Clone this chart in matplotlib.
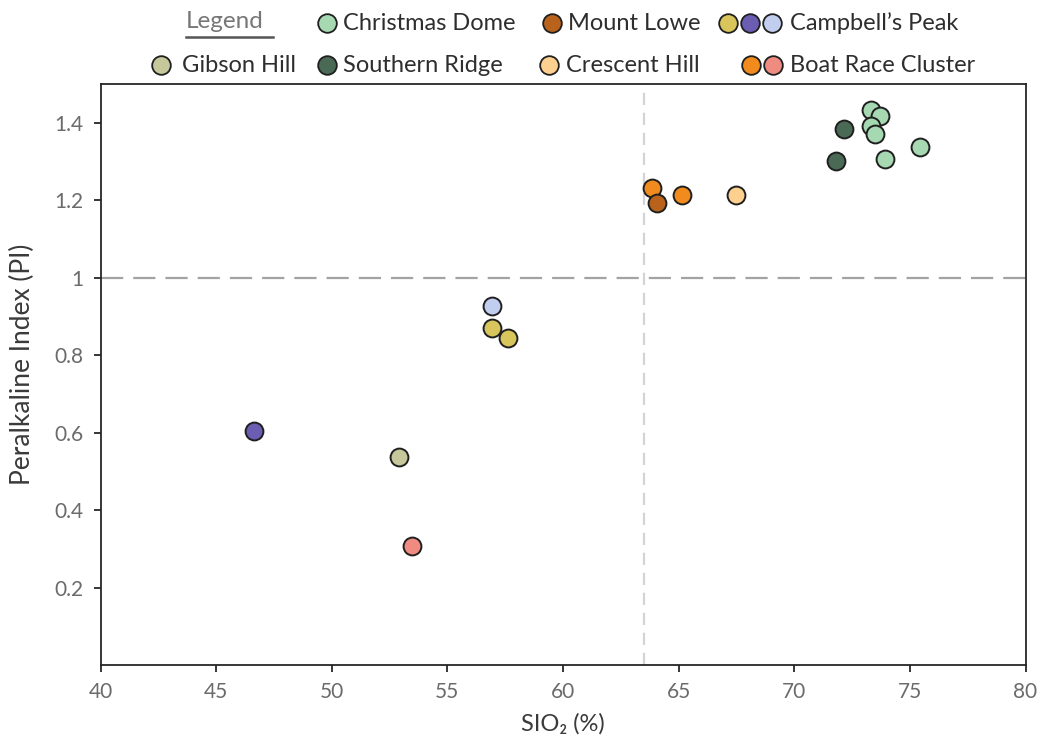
"""
Peralkaline index vs silica for volcanic centres.
Output: out.png
"""
import matplotlib.pyplot as plt

FIG_PATH = "out.png"
FONT = ["Lato", "DejaVu Sans"]

# SiO2 (%) and peralkaline index per volcanic centre
christmas_x = [73.30, 73.70, 73.30, 73.49, 73.92, 75.44]
christmas_y = [1.434, 1.417, 1.391, 1.370, 1.307, 1.338]
southern_x = [72.16, 71.80]
southern_y = [1.384, 1.301]
lowe_x = [64.05]
lowe_y = [1.193]
crescent_x = [67.47]
crescent_y = [1.214]
boat_orange_x = [63.83, 65.13]
boat_orange_y = [1.232, 1.214]
boat_pink_x = [53.46]
boat_pink_y = [0.308]
campbell_yellow_x = [56.91, 57.63]
campbell_yellow_y = [0.870, 0.844]
campbell_purple_x = [46.64]
campbell_purple_y = [0.605]
campbell_blue_x = [56.92]
campbell_blue_y = [0.928]
gibson_x = [52.92]
gibson_y = [0.537]

PI_THRESHOLD = 1.0
SIO2_DIVIDE = 63.5

x_ticks = [40, 45, 50, 55, 60, 65, 70, 75, 80]
y_ticks = [0.2, 0.4, 0.6, 0.8, 1.0, 1.2, 1.4]
y_tick_labels = ["0.2", "0.4", "0.6", "0.8", "1", "1.2", "1.4"]

C_CHRISTMAS = "#a6d9b1"
C_SOUTHERN = "#4b6a55"
C_LOWE = "#b9621c"
C_CRESCENT = "#fdd08f"
C_BOAT_ORANGE = "#f18b1d"
C_BOAT_PINK = "#f08b82"
C_CAMP_YELLOW = "#d8c55b"
C_CAMP_PURPLE = "#6a5db2"
C_CAMP_BLUE = "#c2cef0"
C_GIBSON = "#c6c79b"

series = [
    (campbell_purple_x, campbell_purple_y, C_CAMP_PURPLE),
    (gibson_x, gibson_y, C_GIBSON),
    (boat_pink_x, boat_pink_y, C_BOAT_PINK),
    (campbell_blue_x, campbell_blue_y, C_CAMP_BLUE),
    (campbell_yellow_x, campbell_yellow_y, C_CAMP_YELLOW),
    (crescent_x, crescent_y, C_CRESCENT),
    (boat_orange_x, boat_orange_y, C_BOAT_ORANGE),
    (lowe_x, lowe_y, C_LOWE),
    (southern_x, southern_y, C_SOUTHERN),
    (christmas_x, christmas_y, C_CHRISTMAS),
]

# legend rows: (marker colours, label, first marker x, text x) in pixels
legend_rows = [
    (23, [
        ([C_CHRISTMAS], "Christmas Dome", 327, 343),
        ([C_LOWE], "Mount Lowe", 552, 568),
        ([C_CAMP_YELLOW, C_CAMP_PURPLE, C_CAMP_BLUE], "Campbell\u2019s Peak", 728, 790),
    ]),
    (65, [
        ([C_GIBSON], "Gibson Hill", 161, 182),
        ([C_SOUTHERN], "Southern Ridge", 327, 343),
        ([C_CRESCENT], "Crescent Hill", 549, 566),
        ([C_BOAT_ORANGE, C_BOAT_PINK], "Boat Race Cluster", 751, 790),
    ]),
]


def main():
    W, H = 1041, 747
    fig = plt.figure(figsize=(W / 100, H / 100), dpi=100)
    ax = fig.add_axes([100.5 / W, 1 - 665 / H, 925 / W, 581 / H])

    ax.axhline(PI_THRESHOLD, color="#a3a3a3", lw=1.6, dashes=(10, 4.5), zorder=1)
    ax.axvline(SIO2_DIVIDE, color="#d4d4d4", lw=1.6, dashes=(5.5, 3.5), zorder=1)

    for xs, ys, col in series:
        ax.scatter(xs, ys, s=165, c=col, edgecolors="#1f1f1f", linewidths=1.4, zorder=3)

    ax.set_xlim(40, 80)
    ax.set_ylim(0, 1.5)
    ax.set_xticks(x_ticks)
    ax.set_yticks(y_ticks)
    ax.set_yticklabels(y_tick_labels)
    for side in ["left", "bottom", "top", "right"]:
        ax.spines[side].set_color("#262626")
        ax.spines[side].set_linewidth(1.3)
    ax.tick_params(direction="out", length=5, width=1.3, color="#262626",
                   labelsize=15, labelcolor="#6b6b6b", pad=7)
    for lbl in ax.get_xticklabels() + ax.get_yticklabels():
        lbl.set_family(FONT)

    ax.set_xlabel("SIO\u2082 (%)", fontsize=17, color="#3a3a3a", family=FONT, labelpad=8)
    ax.set_ylabel("Peralkaline Index (PI)", fontsize=19, color="#3a3a3a", family=FONT)
    ax.yaxis.set_label_coords(-0.071, 0.518)

    # legend drawn in pixel space across the top of the figure
    lax = fig.add_axes([0, 0, 1, 1], zorder=5)
    lax.set_xlim(0, W)
    lax.set_ylim(H, 0)
    lax.axis("off")

    lax.text(186, 22, "Legend", fontsize=17.5, color="#777777", family=FONT,
             va="center", ha="left")
    lax.plot([186, 273], [37, 37], color="#555555", lw=1.8)

    for y, entries in legend_rows:
        for cols, label, mx, tx in entries:
            for i, col in enumerate(cols):
                lax.scatter([mx + 22 * i], [y], s=180, c=col,
                            edgecolors="#1f1f1f", linewidths=1.3)
            lax.text(tx, y, label, fontsize=17, color="#2e2e2e", family=FONT,
                     va="center", ha="left")

    fig.savefig(FIG_PATH, dpi=100)
    plt.close()


if __name__ == "__main__":
    main()
